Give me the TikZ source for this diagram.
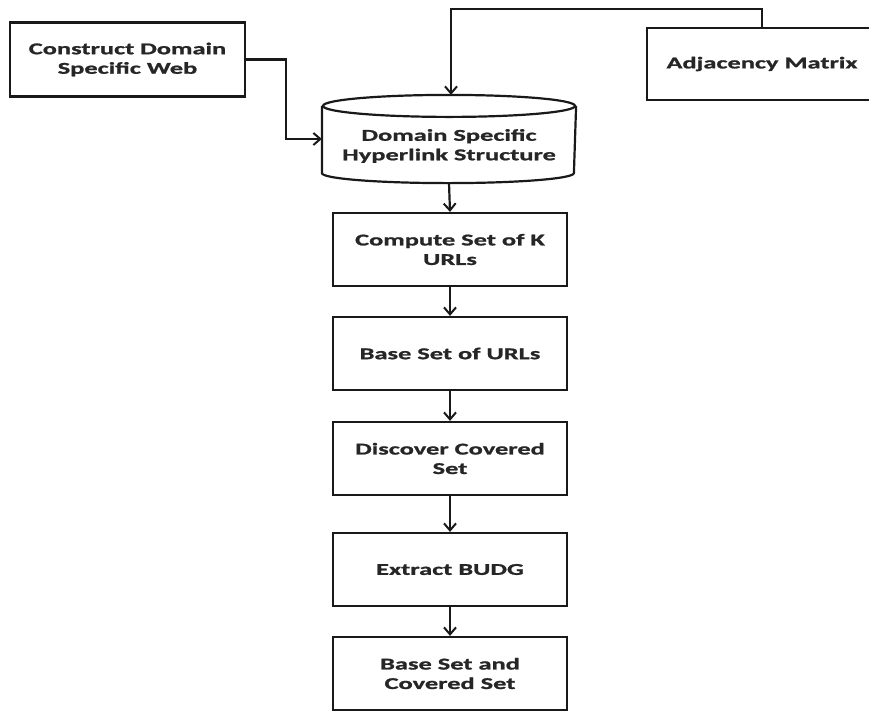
\documentclass[tikz,border=0pt]{standalone}
\usepackage{fontspec}
\newfontfamily\lab{Carlito}[FakeStretch=1.6, BoldFeatures={FakeBold=1.2}]
\usetikzlibrary{arrows.meta}
\tikzset{
  box/.style={draw=black!90, line width=2.2pt, minimum width=234pt, minimum height=73pt, align=center, inner sep=0pt,
    font=\lab\bfseries\fontsize{16.5}{19.5}\selectfont, text=black!85},
  conn/.style={draw=black!90, line width=2.2pt, -{Straight Barb[length=7pt,width=12pt,line width=2pt]}},
  cyl/.style={draw=black!90, line width=2.2pt}
}
\begin{document}
\begin{tikzpicture}[x=1pt,y=-1pt]
\useasboundingbox (0,0) rectangle (869,713);
\node[box, minimum width=235pt, minimum height=74pt] (cons) at (127.5,59.5) {Construct Domain\\Specific Web};
\node[box, minimum width=230pt, minimum height=72pt] (adj) at (762,64) {Adjacency Matrix};
% cylinder
\node[box, draw=none, minimum width=252pt, minimum height=86pt] (db) at (449,139) {};
\draw[cyl] ([yshift=-11pt]db.north west) -- ([yshift=10pt]db.south west)
  arc[start angle=180, end angle=360, x radius=126pt, y radius=10pt]
  -- ([yshift=-11pt]db.north east);
\draw[cyl] ([yshift=-11pt]db.north) ellipse[x radius=126pt, y radius=11pt];
\node[box, draw=none, minimum width=0pt, minimum height=0pt] (dbt) at (449,146) {Domain Specific\\Hyperlink Structure};
\node[box] (k) at (450,249.5) {Compute Set of K\\URLs};
\node[box] (base) at (450,353.5) {Base Set of URLs};
\node[box] (disc) at (450,458.5) {Discover Covered\\Set};
\node[box] (bud) at (450,569.5) {Extract BUDG};
\node[box] (fin) at (450,673.5) {Base Set and\\Covered Set};
\draw[conn] (cons.east) -- ++(40,0) |- (db.west);
\draw[conn] (adj.north) -- ++(0,-18) -| ([xshift=2pt]db.north);
\draw[conn] (db.south) -- (k.north);
\draw[conn] (k) -- (base);
\draw[conn] (base) -- (disc);
\draw[conn] (disc) -- (bud);
\draw[conn] (bud) -- (fin);
\end{tikzpicture}
\end{document}
